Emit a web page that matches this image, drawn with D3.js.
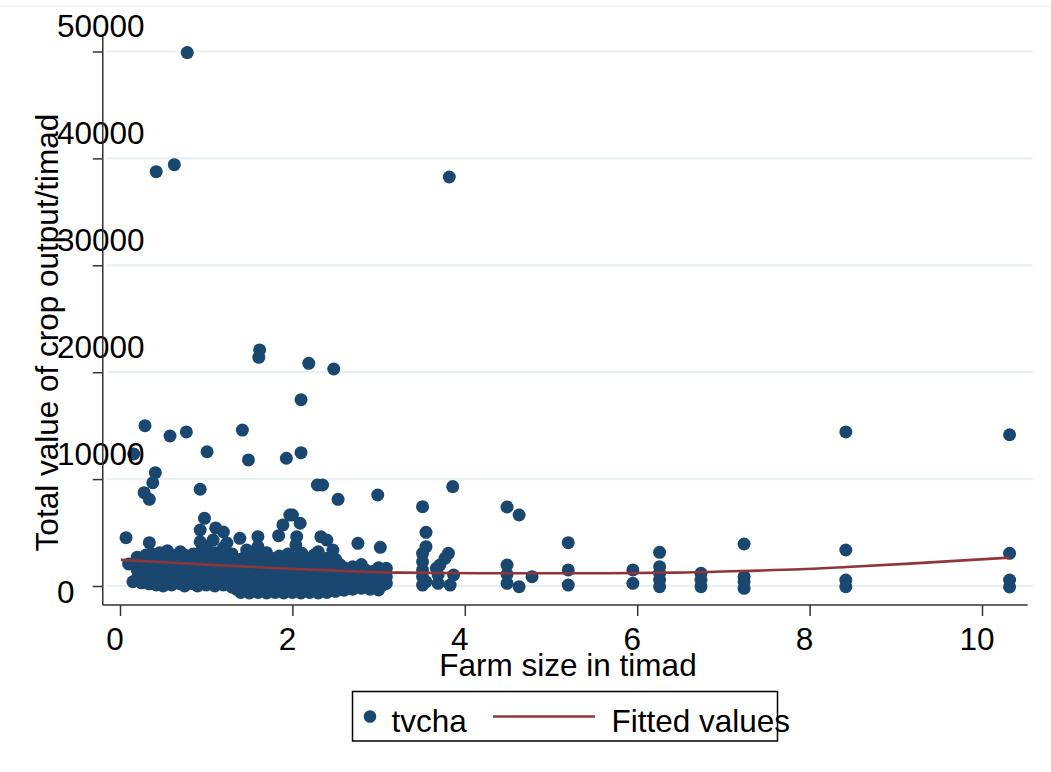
<!DOCTYPE html>
<html>
<head>
<meta charset="utf-8">
<script src="https://cdn.jsdelivr.net/npm/d3@7"></script>
<style>
  html, body { margin: 0; padding: 0; background: #ffffff; }
  svg { display: block; }
  text { font-family: "Liberation Sans", Arial, Helvetica, sans-serif; fill: #000; }
</style>
</head>
<body>
<svg id="chart" width="1051" height="772"></svg>
<script>
// ---------------- DATA ----------------
const xTicks = [0, 2, 4, 6, 8, 10];
const yTicks = [0, 10000, 20000, 30000, 40000, 50000];
const xTitle = "Farm size in timad";
const yTitle = "Total value of crop output/timad";
const legendLabels = ["tvcha", "Fitted values"];

// isolated high values [farm size, tvcha]
const outlierPoints = [
  [0.78, 49900], [0.42, 38760], [0.63, 39410], [3.82, 38260],
  [1.62, 22080], [1.61, 21390], [2.19, 20830], [2.48, 20300], [2.10, 17430],
  [0.29, 15000], [0.77, 14410], [0.58, 14030], [1.42, 14590],
  [0.16, 12350], [1.01, 12560], [1.49, 11790], [1.93, 11950], [2.10, 12470],
  [0.41, 10600], [0.38, 9660], [0.28, 8730], [0.34, 8110], [0.93, 9050],
  [2.29, 9450], [2.35, 9450], [2.53, 8110], [2.99, 8510], [3.86, 9300],
  [3.51, 7420], [4.49, 7390], [4.63, 6640]
];

// moderate values above the main band
const midPoints = [
  [0.07, 4520], [0.34, 4050], [0.10, 2060], [0.15, 400],
  [0.98, 6330], [0.93, 5240], [1.11, 5430], [1.20, 5050], [0.93, 4140],
  [1.08, 4300], [1.24, 4020], [1.39, 4460], [1.47, 3370], [1.60, 4610], [1.60, 3680],
  [1.84, 4710], [1.89, 5710], [1.97, 6640], [2.05, 4610], [2.09, 5870],
  [2.00, 6640], [2.04, 3840], [2.11, 3060], [2.33, 4610], [2.40, 4300],
  [2.47, 3370], [2.76, 3990], [3.02, 3620]
];

// dense band of small farms: [farm size, values...]
const bandColumns = [
  [0.20, [700, 1500, 2200, 2700]], [0.25, [300, 1000, 1800, 2500]],
  [0.30, [600, 1400, 2100, 2900]], [0.34, [200, 1100]],
  [0.38, [500, 1600, 2400, 3000]], [0.42, [100, 900, 1900, 2600]],
  [0.46, [400, 1300, 2200, 3100]], [0.50, [0, 800, 1500, 2800]],
  [0.55, [300, 1100, 1800, 2500, 3300]], [0.60, [100, 700, 1400, 2100, 2900]],
  [0.65, [500, 1200, 2000, 2700]], [0.70, [200, 900, 1600, 2400, 3200]],
  [0.75, [0, 600, 1300, 2200, 2900]], [0.80, [400, 1100, 1700, 2600]],
  [0.85, [200, 800, 1500, 2300, 3000]], [0.90, [0, 600, 1200, 2000, 2700]],
  [0.95, [300, 1000, 1800, 2500, 3400]], [1.00, [100, 700, 1400, 2200, 2900, 3700]],
  [1.05, [400, 1100, 1900, 2600]], [1.10, [0, 800, 1500, 2300, 3100]],
  [1.15, [300, 1000, 1700, 2500]], [1.20, [100, 600, 1300, 2000, 2800, 3600]],
  [1.25, [400, 1100, 1800, 2400]], [1.30, [-100, 700, 1500, 2200, 3000]],
  [1.35, [-300, 500, 1200, 2000]], [1.40, [-600, 200, 900, 1700, 2500]],
  [1.45, [-400, 400, 1100, 1900, 2700]], [1.50, [-650, 100, 800, 1500, 2300]],
  [1.55, [-300, 500, 1300, 2100, 3000]], [1.60, [-600, 200, 1000, 1800, 2600]],
  [1.65, [-400, 400, 1200, 2000]], [1.70, [-650, 0, 700, 1500, 2300, 3100]],
  [1.75, [-300, 500, 1300, 2000]], [1.80, [-600, 200, 900, 1700, 2600]],
  [1.85, [-400, 400, 1100, 1900, 2800]], [1.90, [-650, 0, 700, 1500, 2200]],
  [1.95, [-300, 500, 1300, 2000, 3000]], [2.00, [-600, 200, 900, 1700, 2500]],
  [2.05, [-400, 400, 1100, 1900, 2700]], [2.10, [-650, 0, 800, 1500, 2300]],
  [2.15, [-300, 600, 1300, 2100]], [2.20, [-600, 200, 1000, 1700, 2600]],
  [2.25, [-400, 400, 1100, 1900, 2900]], [2.30, [-650, 0, 700, 1500, 2300, 3200]],
  [2.35, [-300, 500, 1300, 2100]], [2.40, [-600, 200, 1000, 1800, 2600]],
  [2.45, [-400, 400, 1200, 2000]], [2.50, [-500, 100, 800, 1600, 2500]],
  [2.55, [-300, 500, 1300, 2000]], [2.60, [-400, 200, 900, 1700]],
  [2.65, [-200, 600, 1400]], [2.70, [-300, 300, 1000, 1800]],
  [2.75, [0, 700, 1500]], [2.80, [-200, 400, 1100, 2000]],
  [2.85, [100, 800, 1500]], [2.90, [-300, 300, 1100]],
  [2.95, [0, 700, 1400]], [3.00, [-370, 400, 1000, 1700]],
  [3.05, [100, 800, 1400]], [3.09, [250, 870, 1660]]
];

// larger farms: [farm size, values...]
const largeFarmColumns = [
  [3.51, [3060, 2270, 1500, 870, 90]], [3.55, [5020, 3680, 400]],
  [3.67, [1660]], [3.69, [1030, 250]], [3.71, [1960]], [3.77, [2590]],
  [3.81, [3060]], [3.83, [90]], [3.87, [1030]],
  [4.49, [1960, 1100, 250]], [4.63, [-60]], [4.78, [870]],
  [5.20, [4050, 1500, 90]], [5.95, [1500, 250]],
  [6.26, [3150, 1810, 1200, 560, -60]], [6.74, [1190, 560, -60]],
  [7.24, [3930, 870, 400, -220]], [8.42, [14410, 3370, 560, -60]],
  [10.32, [14150, 3060, 560, -90]]
];

// fitted values
const fitX = [0.01, 0.93, 2.09, 3.25, 4.41, 5.45, 6.46, 7.19, 7.89, 8.43, 9.16, 10.32];
const fitY = [2440, 2030, 1570, 1250, 1190, 1190, 1250, 1400, 1560, 1780, 2090, 2650];

// axis extents (domain of the plot region)
const xExtent = [-0.2, 10.53];
const yExtent = [-1780, 51360];

// ---------------- DRAWING ----------------
const navy = "#1a476f";
const maroon = "#90353b";
const gridColor = "#e7eff1";
const axisColor = "#333333";
const fontSize = 31.5;

const svg = d3.select("#chart");

const x = d3.scaleLinear().domain([0, 10]).range([120, 982]);
const y = d3.scaleLinear().domain([0, 50000]).range([586, 51.5]);

const plotLeft = x(xExtent[0]), plotRight = x(xExtent[1]);
const plotTop = y(yExtent[1]), plotBottom = y(yExtent[0]);

// faint outer line at the top
svg.append("line")
  .attr("x1", 0).attr("x2", 1051).attr("y1", 6).attr("y2", 6)
  .attr("stroke", "#eef3f5").attr("stroke-width", 2);

// gridlines
svg.append("g").selectAll("line").data(yTicks).join("line")
  .attr("x1", plotLeft + 4).attr("x2", plotRight + 5)
  .attr("y1", d => y(d)).attr("y2", d => y(d))
  .attr("stroke", gridColor).attr("stroke-width", 2.2);

// points
const allPoints = []
  .concat(bandColumns.flatMap(([fx, vals]) => vals.map(v => [fx, v])))
  .concat(midPoints)
  .concat(largeFarmColumns.flatMap(([fx, vals]) => vals.map(v => [fx, v])))
  .concat(outlierPoints);

svg.append("g").selectAll("circle").data(allPoints).join("circle")
  .attr("cx", d => x(d[0])).attr("cy", d => y(d[1]))
  .attr("r", 6.5).attr("fill", navy);

// fitted line
const fitData = fitX.map((fx, i) => [fx, fitY[i]]);
svg.append("path").datum(fitData)
  .attr("d", d3.line().x(d => x(d[0])).y(d => y(d[1])).curve(d3.curveMonotoneX))
  .attr("fill", "none").attr("stroke", maroon).attr("stroke-width", 2.6);

// y axis
const yAxis = svg.append("g").attr("transform", `translate(${plotLeft},0)`)
  .call(d3.axisLeft(y).tickValues(yTicks).tickSize(10).tickFormat(d3.format("d")));
yAxis.select(".domain").remove();
yAxis.selectAll(".tick line").attr("stroke", axisColor).attr("stroke-width", 1.5);
yAxis.selectAll(".tick text")
  .attr("x", 57 - plotLeft).attr("dy", null)
  .attr("y", d => d === 0 ? 16 : -15)
  .attr("text-anchor", "start")
  .style("font-size", fontSize + "px")
  .style("font-family", '"Liberation Sans", Arial, sans-serif')
  .attr("fill", "#000");
svg.append("line")
  .attr("x1", plotLeft).attr("x2", plotLeft).attr("y1", plotTop).attr("y2", plotBottom)
  .attr("stroke", axisColor).attr("stroke-width", 1.5);

// x axis
const xAxis = svg.append("g").attr("transform", `translate(0,${plotBottom})`)
  .call(d3.axisBottom(x).tickValues(xTicks).tickSize(11).tickFormat(d3.format("d")));
xAxis.select(".domain").remove();
xAxis.selectAll(".tick line").attr("stroke", axisColor).attr("stroke-width", 1.5);
xAxis.selectAll(".tick text")
  .attr("dy", null).attr("y", 45).attr("x", -5.5)
  .attr("text-anchor", "middle")
  .style("font-size", fontSize + "px")
  .style("font-family", '"Liberation Sans", Arial, sans-serif')
  .attr("fill", "#000");
svg.append("line")
  .attr("x1", plotLeft).attr("x2", plotRight).attr("y1", plotBottom).attr("y2", plotBottom)
  .attr("stroke", axisColor).attr("stroke-width", 1.5);

// axis titles
svg.append("text")
  .attr("x", 568).attr("y", 676)
  .attr("text-anchor", "middle")
  .style("font-size", fontSize + "px")
  .text(xTitle);

svg.append("text")
  .attr("transform", "translate(57.5,332.5) rotate(-90)")
  .attr("text-anchor", "middle")
  .style("font-size", fontSize + "px")
  .text(yTitle);

// legend
const lg = svg.append("g");
lg.append("rect")
  .attr("x", 352.5).attr("y", 691.5).attr("width", 425).attr("height", 49.5)
  .attr("fill", "#fff").attr("stroke", "#000").attr("stroke-width", 1.5);
lg.append("circle").attr("cx", 370).attr("cy", 716.5).attr("r", 6.3).attr("fill", navy);
lg.append("text").attr("x", 391.5).attr("y", 731.5)
  .style("font-size", fontSize + "px").text(legendLabels[0]);
lg.append("line").attr("x1", 493).attr("x2", 595).attr("y1", 716.5).attr("y2", 716.5)
  .attr("stroke", maroon).attr("stroke-width", 2.6);
lg.append("text").attr("x", 611.5).attr("y", 731.5)
  .style("font-size", fontSize + "px").text(legendLabels[1]);
</script>
</body>
</html>
